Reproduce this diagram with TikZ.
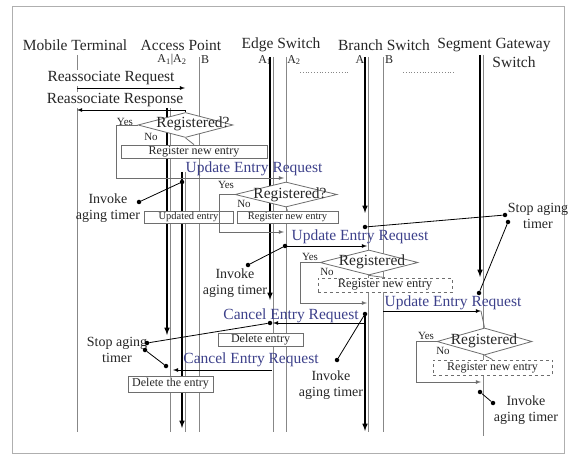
\documentclass[tikz,border=0pt]{standalone}
\usepackage{fontspec}
\setmainfont{Liberation Serif}
\usetikzlibrary{arrows,shapes.geometric,positioning}

\definecolor{reqblue}{RGB}{60,64,138}
\definecolor{lifegray}{RGB}{135,135,135}
\definecolor{boxgray}{RGB}{110,110,110}
\definecolor{framegray}{RGB}{175,175,175}

\tikzset{
  head/.style={font=\fontsize{15.5bp}{17bp}\selectfont,inner sep=0pt,text=black!85},
  sub/.style={font=\fontsize{12bp}{13bp}\selectfont,inner sep=0pt,text=black!85},
  msg/.style={font=\fontsize{15.5bp}{17bp}\selectfont,inner sep=1pt,text=black!85},
  req/.style={msg,text=reqblue},
  note/.style={font=\fontsize{14bp}{16bp}\selectfont,inner sep=0pt,align=center,text=black!85},
  yesno/.style={font=\fontsize{11bp}{12bp}\selectfont,inner sep=0pt,text=black!85},
  regq/.style={diamond,draw=boxgray,fill=white,inner sep=0pt,line width=0.8bp},
  regtxt/.style={font=\fontsize{15.5bp}{17bp}\selectfont,inner sep=0pt,text=black!85},
  entrybox/.style={rectangle,draw=boxgray,fill=white,inner sep=0pt,line width=0.8bp,text=black!85},
  life/.style={lifegray,line width=0.9bp},
  timer/.style={line width=1.5bp,-latex},
  tdot/.style={circle,fill=black,inner sep=0pt,minimum size=4.5bp},
  link/.style={line width=0.8bp},
  flow/.style={boxgray,line width=0.8bp}
}

\begin{document}
\begin{tikzpicture}[x=1bp,y=-1bp]
\useasboundingbox (0,0) rectangle (569,458);
\draw[framegray] (12,6) rectangle (564,453);

% entities
\node[head] (mtname) at (75,45) {Mobile Terminal};
\node[head] (apname) at (181,45) {Access Point};
\node[head] (esname) at (281,45) {Edge Switch};
\node[head] (bsname) at (384,45) {Branch Switch};
\node[head] (sgname) at (494,45) {Segment Gateway};
\node[head] (sgname2) at (514,62) {Switch};

\node[sub] (apsub) at (172,60) {A\textsubscript{1}|A\textsubscript{2}};
\node[sub] (apsubb) at (205,60) {B};
\node[sub] (essub) at (265,60) {A\textsubscript{1}};
\node[sub] (essubb) at (294,60) {A\textsubscript{2}};
\node[sub] (bssub) at (360,60) {A};
\node[sub] (bssubb) at (389,60) {B};

% lifelines
\foreach \n/\x/\t/\b in {mt/77/55/432, apa/170/108/432, apc/185/172/432, apb/199/57/432, esa/273/57/432, esc/286/57/432, bsa/368/57/432, bsb/383/57/432, sg/483/55/436}
{
\coordinate (\n-t) at (\x,\t);
\coordinate (\n-b) at (\x,\b);
\draw[life] (\n-t) -- (\n-b);
}

\coordinate (dots1-s) at (300,72);
\coordinate (dots1-e) at (350,72);
\coordinate (dots2-s) at (403,72);
\coordinate (dots2-e) at (455,72);
\draw[dotted,thick,lifegray] (dots1-s) -- (dots1-e);
\draw[dotted,thick,lifegray] (dots2-s) -- (dots2-e);

% aging timers
\foreach \n/\x/\t/\b in {t1/167/108/335, t2/182/172/428, t3/270/57/300, t4/365/57/213, t5/365/314/431, t6/480/55/277}
{
\coordinate (\n-s) at (\x,\t);
\coordinate (\n-e) at (\x,\b);
\draw[timer] (\n-s) -- (\n-e);
}

% reassociation
\node[msg,fill=white] (reqlbl) at (111,78) {Reassociate Request};
\node[msg,fill=white] (resplbl) at (115,100) {Reassociate Response};
\coordinate (req-s) at (77,88);
\coordinate (req-e) at (185,88);
\coordinate (resp-e) at (77,110);
\draw[-latex,link] (req-s) -- (req-e);

% access point check
\node[regq,minimum width=95bp,minimum height=25bp] (dA) at (185.5,125) {};
\node[regtxt] (dAtxt) at (193,124) {Registered?};
\node[yesno] (yesA) at (125,122) {Yes};
\node[yesno] (noA) at (151,137) {No};
\node[entrybox,minimum width=146bp,minimum height=13bp,font=\fontsize{12bp}{13bp}\selectfont] (bA) at (194,151.5) {Register new entry};
\draw[-latex,link] (dA.north) |- (resp-e);
\draw[flow] (dA.south) -- (bA.north);

\coordinate (yA) at (116,125);
\coordinate (upd1-e) at (284,178);
\draw[-latex,flow] (dA.west) -- (yA) |- (upd1-e);
\node[req] (upd1) at (254,169) {Update Entry Request};

\node[entrybox,minimum width=89bp,minimum height=12bp,font=\fontsize{10.5bp}{12bp}\selectfont] (bU) at (188.5,217) {Updated entry};
\node[tdot] (p1) at (139,202) {};
\node[tdot] (p2) at (182,182) {};
\draw[link] (p1) -- (p2);
\node[note] (inv1) at (108,208) {Invoke\\aging timer};

% edge switch check
\node[regq,minimum width=102bp,minimum height=25bp] (dE) at (286,194.5) {};
\node[regtxt] (dEtxt) at (290,194.5) {Registered?};
\node[yesno] (yesE) at (226,185) {Yes};
\node[yesno] (noE) at (244,204) {No};
\node[entrybox,minimum width=101bp,minimum height=12bp,font=\fontsize{10.5bp}{12bp}\selectfont] (bE) at (287.5,217) {Register new entry};
\draw[flow] (dE.south) -- (bE.north);
\coordinate (yE) at (219,194.5);
\coordinate (yE-e) at (284,232);
\draw[-latex,flow] (dE.west) -- (yE) |- (yE-e);

\coordinate (upd2-s) at (285,246);
\coordinate (upd2-e) at (367,246);
\draw[-latex,link] (upd2-s) -- (upd2-e);
\node[req] (upd2) at (360,237) {Update Entry Request};
\node[tdot] (p3) at (248,265) {};
\node[tdot] (p4) at (285,246) {};
\draw[link] (p3) -- (p4);
\node[note] (inv2) at (235,283) {Invoke\\aging timer};

% branch switch check
\node[regq,minimum width=98bp,minimum height=25bp] (dB) at (369,262.5) {};
\node[regtxt] (dBtxt) at (372,262) {Registered};
\node[yesno] (yesB) at (310,257) {Yes};
\node[yesno] (noB) at (327,272) {No};
\node[entrybox,dashed,minimum width=134bp,minimum height=14bp,font=\fontsize{12.5bp}{13bp}\selectfont] (bB) at (385,285) {Register new entry};
\draw[flow] (dB.south) -- (bB.north);
\coordinate (yB) at (300,262.5);
\coordinate (yB-e) at (367,303);
\draw[-latex,flow] (dB.west) -- (yB) |- (yB-e);

\coordinate (upd3-s) at (383,311);
\coordinate (upd3-e) at (481,311);
\draw[-latex,link] (upd3-s) -- (upd3-e);
\node[req] (upd3) at (453,303) {Update Entry Request};
\node[tdot] (p5) at (365,314) {};
\node[tdot] (p6) at (337,360) {};
\draw[link] (p5) -- (p6);
\node[note] (inv3) at (331,385.5) {Invoke\\aging timer};

% segment gateway check
\node[regq,minimum width=95bp,minimum height=27bp] (dS) at (484.5,341.5) {};
\node[regtxt] (dStxt) at (484,341) {Registered};
\node[yesno] (yesS) at (426,336) {Yes};
\node[yesno] (noS) at (443,351) {No};
\node[entrybox,dashed,minimum width=119bp,minimum height=15bp,font=\fontsize{12bp}{13bp}\selectfont] (bS) at (492.5,367.5) {Register new entry};
\draw[flow] (upd3-e) -- (dS.north);
\draw[flow] (dS.south) -- (bS.north);
\coordinate (yS) at (416,341.5);
\coordinate (yS-e) at (481,382);
\draw[-latex,flow] (dS.west) -- (yS) |- (yS-e);
\node[tdot] (p7) at (480,392) {};
\node[tdot] (p8) at (493,403) {};
\draw[link] (p7) -- (p8);
\node[note] (inv4) at (526,410.5) {Invoke\\aging timer};

% stop aging timer (gateway side)
\node[note] (stop1) at (538,216) {Stop aging\\timer};
\node[tdot] (q1) at (505,215) {};
\node[tdot] (q2) at (508,222) {};
\node[tdot] (q3) at (365,227) {};
\node[tdot] (q4) at (479,293) {};
\draw[link] (q1) -- (q3);
\draw[link] (q2) -- (q4);

% cancel
\coordinate (can1-s) at (365,323);
\coordinate (can1-e) at (273,323);
\draw[-latex,link] (can1-s) -- (can1-e);
\node[req] (can1) at (291,316) {Cancel Entry Request};
\node[entrybox,minimum width=85bp,minimum height=13bp,font=\fontsize{12bp}{13bp}\selectfont] (bD) at (260.5,339.5) {Delete entry};

\coordinate (can2-s) at (272,370);
\coordinate (can2-e) at (173,370);
\draw[-latex,link] (can2-s) -- (can2-e);
\node[req] (can2) at (251,360) {Cancel Entry Request};
\node[entrybox,minimum width=85bp,minimum height=16bp,font=\fontsize{12bp}{13bp}\selectfont] (bT) at (170.5,384) {Delete the entry};

\node[note] (stop2) at (117,349.5) {Stop aging\\timer};
\node[tdot] (r1) at (147,343) {};
\node[tdot] (r2) at (145,350) {};
\node[tdot] (r3) at (270,323) {};
\node[tdot] (r4) at (166,366) {};
\draw[link] (r1) -- (r3);
\draw[link] (r2) -- (r4);
\end{tikzpicture}
\end{document}
